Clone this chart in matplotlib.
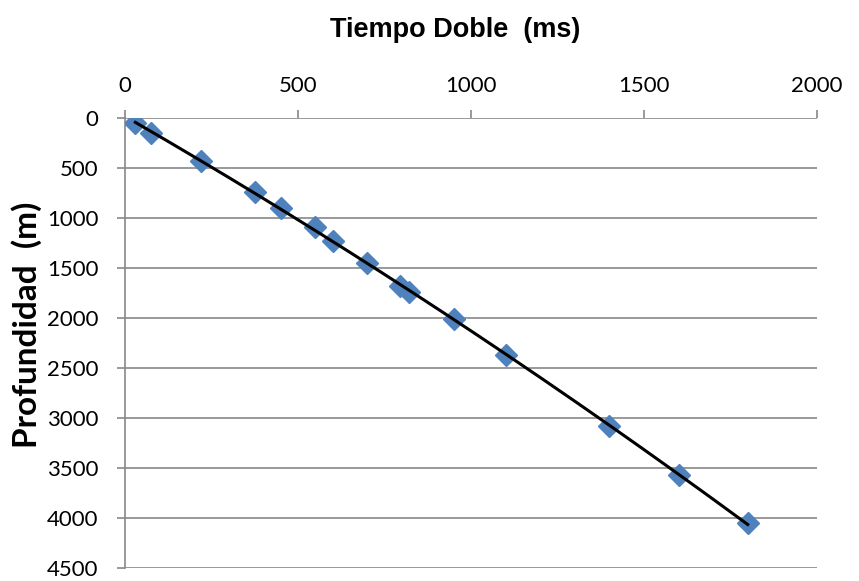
import numpy as np
import matplotlib.pyplot as plt

# Two-way time vs depth
tiempo = [30, 75, 220, 375, 450, 550, 600, 700, 795, 820, 950, 1100, 1400, 1600, 1800]
profundidad = [50, 150, 430, 740, 900, 1090, 1230, 1450, 1680, 1740, 2010, 2370, 3080, 3570, 4050]

x_ticks = [0, 500, 1000, 1500, 2000]
y_ticks = [0, 500, 1000, 1500, 2000, 2500, 3000, 3500, 4000, 4500]

plt.rcParams['font.family'] = ['Lato', 'DejaVu Sans']

fig = plt.figure(figsize=(8.59, 5.81), dpi=100)
ax = fig.add_axes([0.1455, 0.0224, 0.8055, 0.7745])

grid_col = '#888888'

ax.plot(tiempo, profundidad, 'D', color='#4F81BD', markersize=11, zorder=3)

# second order trend line through the points
coef = np.polyfit(tiempo, profundidad, 2)
xt = np.linspace(min(tiempo), max(tiempo), 200)
ax.plot(xt, np.polyval(coef, xt), color='black', linewidth=2.2, zorder=4)

ax.set_xlim(0, 2000)
ax.set_ylim(4500, 0)
ax.set_xticks(x_ticks)
ax.set_yticks(y_ticks)

ax.xaxis.tick_top()
ax.xaxis.set_label_position('top')

ax.yaxis.grid(True, color=grid_col, linewidth=1.2)
ax.set_axisbelow(True)

for side in ['right', 'bottom', 'top']:
    ax.spines[side].set_visible(False)
ax.spines['left'].set_color(grid_col)
ax.spines['left'].set_linewidth(1.2)

ax.tick_params(axis='both', colors=grid_col, length=6, width=1.2,
               labelcolor='black', labelsize=16, direction='out')
ax.tick_params(axis='x', pad=10)
ax.tick_params(axis='y', pad=13)

ax.set_xlabel('Tiempo Doble  (ms)', fontsize=19.5, fontweight='bold',
              family=['Liberation Sans', 'DejaVu Sans'], labelpad=28)
ax.set_ylabel('Profundidad  (m)', fontsize=24, fontweight='bold', labelpad=4)
ax.xaxis.label.set_x(0.477)
ax.yaxis.label.set_y(0.54)

fig.savefig('out.png', dpi=100)
